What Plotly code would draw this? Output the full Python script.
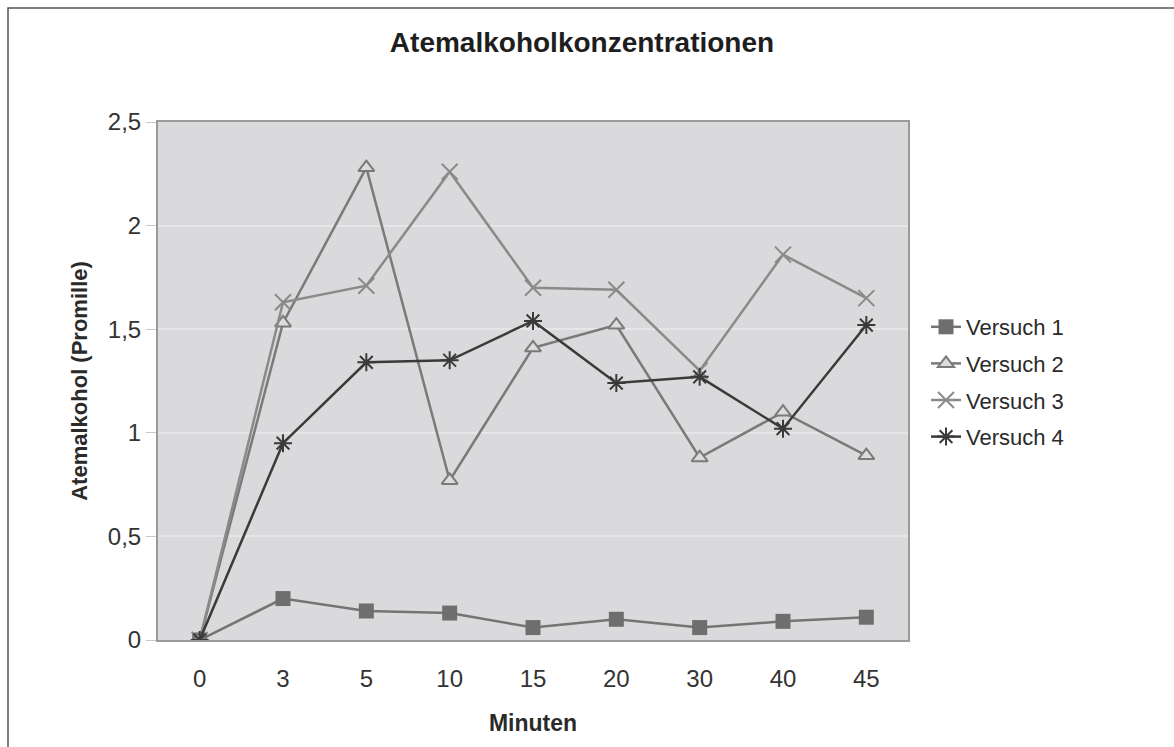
import plotly.graph_objects as go

minuten = ["0", "3", "5", "10", "15", "20", "30", "40", "45"]
versuch_1 = [0.0, 0.20, 0.14, 0.13, 0.06, 0.10, 0.06, 0.09, 0.11]
versuch_2 = [0.0, 1.53, 2.28, 0.77, 1.41, 1.52, 0.88, 1.10, 0.89]
versuch_3 = [0.0, 1.63, 1.71, 2.26, 1.70, 1.69, 1.30, 1.86, 1.65]
versuch_4 = [0.0, 0.95, 1.34, 1.35, 1.54, 1.24, 1.27, 1.02, 1.52]
y_ticks = [0, 0.5, 1, 1.5, 2, 2.5]
y_tick_text = ["0", "0,5", "1", "1,5", "2", "2,5"]

W, H = 1174, 747
L, R, T, B = 158, 908, 122, 640

fig = go.Figure()

fig.add_trace(go.Scatter(
    x=minuten, y=versuch_1, name="Versuch 1", mode="lines+markers",
    legendgroup="v1",
    line=dict(color="#747474", width=2.5),
    marker=dict(symbol="square", size=15, color="#6e6e6e"),
))
fig.add_trace(go.Scatter(
    x=minuten, y=versuch_2, name="Versuch 2", mode="lines+markers",
    legendgroup="v2",
    line=dict(color="#7a7a7a", width=2.5),
    marker=dict(symbol="triangle-up", size=14, color="#dcdcdc",
                line=dict(color="#7a7a7a", width=2)),
))
fig.add_trace(go.Scatter(
    x=minuten, y=versuch_3, name="Versuch 3", mode="lines+markers",
    legendgroup="v3",
    line=dict(color="#8a8a8a", width=2.5),
    marker=dict(symbol="x-thin-open", size=16,
                line=dict(color="#ababab", width=2)),
))
fig.add_trace(go.Scatter(
    x=minuten, y=versuch_4, name="Versuch 4", mode="lines+markers",
    legendgroup="v4",
    line=dict(color="#3a3a3a", width=2.5),
    marker=dict(symbol="asterisk-open", size=15,
                line=dict(color="#333333", width=2)),
))

# outer frame of the chart (only left and top edges fall inside the page)
fig.add_shape(type="rect", xref="paper", yref="paper",
              x0=(8 - L) / (R - L), x1=(W + 60 - L) / (R - L),
              y0=(B - (H + 60)) / (B - T), y1=(B - 8) / (B - T),
              line=dict(color="#555555", width=1.5), layer="below")

fig.update_layout(
    width=W, height=H, autosize=False,
    margin=dict(l=L, r=W - R, t=T, b=H - B),
    paper_bgcolor="white",
    plot_bgcolor="#dadadc",
    font=dict(family="Liberation Sans, Arial, sans-serif", color="#2a2a2a"),
    title=dict(text="<b>Atemalkoholkonzentrationen</b>",
               x=582 / W, xanchor="center", y=1 - 42 / H, yanchor="middle",
               font=dict(size=28, color="#1e1e1e")),
    xaxis=dict(
        type="category", range=[-0.5, 8.5],
        showgrid=False, zeroline=False,
        showline=True, linecolor="#9a9a9a", linewidth=2, mirror=True,
        ticks="outside", ticklen=16, tickcolor="rgba(0,0,0,0)",
        tickfont=dict(size=24, color="#333333"),
        title=dict(text="<b>Minuten</b>", font=dict(size=23, color="#2a2a2a"),
                   standoff=24),
    ),
    yaxis=dict(
        range=[0, 2.5], tickvals=y_ticks, ticktext=y_tick_text,
        showgrid=True, gridcolor="#e6e6e8", gridwidth=1.5,
        zeroline=False,
        showline=True, linecolor="#9a9a9a", linewidth=2, mirror=True,
        ticks="outside", ticklen=10, tickcolor="#c8c8c8",
        tickfont=dict(size=24, color="#333333"),
        ticklabelstandoff=0,
        title=dict(text="<b>Atemalkohol (Promille)</b>",
                   font=dict(size=22, color="#2a2a2a"), standoff=14),
    ),
    legend=dict(
        x=(926 - L) / (R - L), xanchor="left",
        y=(B - 306) / (B - T), yanchor="top",
        font=dict(size=22, color="#2a2a2a"),
        bgcolor="rgba(0,0,0,0)",
        tracegroupgap=5,
    ),
    showlegend=True,
)

fig.write_html("out.html")
